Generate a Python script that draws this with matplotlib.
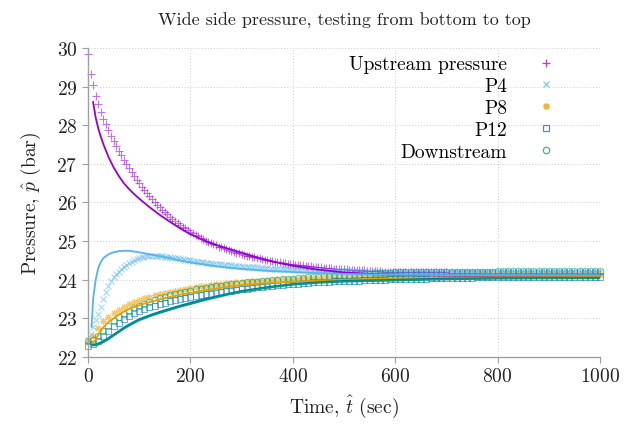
import numpy as np
import matplotlib
matplotlib.use('Agg')
import matplotlib.pyplot as plt
from matplotlib.lines import Line2D

# measured data, sampled every 5 s (upstream, P4) and every 10 s (P8, P12, downstream)
t_fino = np.arange(0, 1001, 5)
t_grueso = np.arange(0, 1001, 10)

upstream = [
    29.85, 29.32, 29.04, 28.77, 28.54, 28.35, 28.17, 28.02, 27.87, 27.73,
    27.60, 27.47, 27.34, 27.22, 27.11, 26.99, 26.89, 26.78, 26.68, 26.59,
    26.50, 26.41, 26.32, 26.24, 26.16, 26.09, 26.01, 25.94, 25.88, 25.81,
    25.75, 25.69, 25.63, 25.57, 25.52, 25.47, 25.42, 25.37, 25.33, 25.28,
    25.24, 25.20, 25.16, 25.12, 25.08, 25.05, 25.01, 24.98, 24.95, 24.92,
    24.89, 24.86, 24.84, 24.81, 24.79, 24.76, 24.74, 24.72, 24.70, 24.68,
    24.66, 24.64, 24.62, 24.61, 24.59, 24.58, 24.56, 24.55, 24.53, 24.52,
    24.51, 24.49, 24.48, 24.47, 24.46, 24.45, 24.44, 24.43, 24.42, 24.41,
    24.40, 24.39, 24.38, 24.38, 24.37, 24.36, 24.35, 24.35, 24.34, 24.33,
    24.33, 24.32, 24.31, 24.31, 24.30, 24.30, 24.29, 24.29, 24.28, 24.28,
    24.27, 24.27, 24.26, 24.26, 24.25, 24.25, 24.25, 24.24, 24.24, 24.23,
    24.23, 24.23, 24.22, 24.22, 24.22, 24.21, 24.21, 24.21, 24.21, 24.20,
    24.20,
    24.20, 24.20, 24.20, 24.20, 24.19, 24.19, 24.19, 24.19, 24.19, 24.19,
    24.19, 24.19, 24.19, 24.19, 24.19, 24.19, 24.19, 24.19, 24.19, 24.19,
    24.18, 24.18, 24.18, 24.18, 24.18, 24.18, 24.18, 24.18, 24.18, 24.18,
    24.18, 24.18, 24.18, 24.18, 24.18, 24.18, 24.18, 24.18, 24.18, 24.18,
    24.18, 24.18, 24.18, 24.18, 24.18, 24.18, 24.18, 24.18, 24.18, 24.18,
    24.17, 24.17, 24.17, 24.17, 24.17, 24.17, 24.17, 24.17, 24.17, 24.17,
    24.17, 24.17, 24.17, 24.17, 24.17, 24.17, 24.17, 24.17, 24.17, 24.17,
    24.17, 24.17, 24.17, 24.17, 24.17, 24.17, 24.17, 24.17, 24.17, 24.17,
]

p4 = [
    22.45, 22.60, 22.77, 22.95, 23.12, 23.30, 23.50, 23.68, 23.84, 23.97,
    24.06, 24.14, 24.21, 24.27, 24.33, 24.38, 24.43, 24.47, 24.51, 24.54,
    24.57, 24.59, 24.60, 24.61, 24.62, 24.62, 24.62, 24.62, 24.61, 24.61,
    24.60, 24.59, 24.58, 24.57, 24.56, 24.55, 24.54, 24.53, 24.52, 24.51,
    24.50, 24.49, 24.48, 24.47, 24.46, 24.45, 24.44, 24.44, 24.43, 24.42,
    24.41, 24.40, 24.40, 24.39, 24.38, 24.38, 24.37, 24.36, 24.36, 24.35,
    24.35, 24.34, 24.34, 24.33, 24.33, 24.32, 24.32, 24.31, 24.31, 24.30,
    24.30,
    24.29, 24.29, 24.29, 24.28, 24.28, 24.28, 24.27, 24.27, 24.27, 24.26,
    24.26, 24.26, 24.25, 24.25, 24.25, 24.25, 24.24, 24.24, 24.24, 24.24,
    24.23, 24.23, 24.23, 24.23, 24.23, 24.22, 24.22, 24.22, 24.22, 24.22,
    24.22, 24.22, 24.22, 24.22, 24.22, 24.21, 24.21, 24.21, 24.21, 24.21,
    24.21, 24.21, 24.21, 24.21, 24.21, 24.21, 24.21, 24.21, 24.21, 24.21,
    24.21, 24.21, 24.21, 24.21, 24.21, 24.21, 24.21, 24.21, 24.21, 24.21,
    24.21, 24.21, 24.21, 24.21, 24.21, 24.21, 24.21, 24.21, 24.21, 24.21,
    24.20, 24.20, 24.20, 24.20, 24.20, 24.20, 24.20, 24.20, 24.20, 24.20,
    24.20, 24.20, 24.20, 24.20, 24.20, 24.20, 24.20, 24.20, 24.20, 24.20,
    24.20, 24.20, 24.20, 24.20, 24.20, 24.20, 24.20, 24.20, 24.20, 24.20,
    24.20, 24.20, 24.20, 24.20, 24.20, 24.20, 24.20, 24.20, 24.20, 24.20,
    24.20, 24.20, 24.20, 24.20, 24.20, 24.20, 24.20, 24.20, 24.20, 24.20,
    24.20, 24.20, 24.20, 24.20, 24.20, 24.20, 24.20, 24.20, 24.20, 24.20,
]

p8 = [
    22.38, 22.55, 22.76, 22.92, 23.04, 23.14, 23.22, 23.30, 23.36, 23.42,
    23.47, 23.52, 23.56, 23.60, 23.63, 23.66, 23.69, 23.72, 23.74, 23.77,
    23.79, 23.81, 23.83, 23.85, 23.86, 23.88, 23.89, 23.91, 23.92, 23.93,
    23.94, 23.95, 23.96, 23.97, 23.98, 23.99, 24.00, 24.01, 24.01, 24.02,
    24.03, 24.03, 24.04, 24.04, 24.05, 24.05, 24.06, 24.06, 24.07, 24.07,
    24.07,
    24.08, 24.08, 24.08, 24.08, 24.08, 24.09, 24.09, 24.09, 24.09, 24.09,
    24.09, 24.09, 24.09, 24.10, 24.10, 24.10, 24.10, 24.10, 24.10, 24.10,
    24.10, 24.10, 24.10, 24.10, 24.10, 24.11, 24.11, 24.11, 24.11, 24.11,
    24.11, 24.11, 24.11, 24.11, 24.11, 24.11, 24.11, 24.11, 24.11, 24.11,
    24.11, 24.11, 24.11, 24.11, 24.11, 24.11, 24.11, 24.11, 24.11, 24.11,
]

p12 = [
    22.29, 22.33, 22.41, 22.54, 22.67, 22.79, 22.89, 22.98, 23.06, 23.13,
    23.19, 23.24, 23.29, 23.33, 23.37, 23.41, 23.44, 23.47, 23.50, 23.52,
    23.55, 23.57, 23.60, 23.62, 23.64, 23.66, 23.68, 23.70, 23.72, 23.74,
    23.76, 23.77, 23.79, 23.80, 23.82, 23.83, 23.85, 23.86, 23.87, 23.88,
    23.89, 23.90, 23.91, 23.92, 23.93, 23.94, 23.94, 23.95, 23.96, 23.96,
    23.97, 23.97, 23.98, 23.98, 23.99, 23.99, 24.00, 24.00, 24.00, 24.01,
    24.01, 24.02, 24.02, 24.02, 24.03, 24.03, 24.03, 24.04, 24.04, 24.04,
    24.05,
    24.05, 24.05, 24.05, 24.05, 24.05, 24.06, 24.06, 24.06, 24.06, 24.06,
    24.06, 24.06, 24.06, 24.06, 24.06, 24.07, 24.07, 24.07, 24.07, 24.07,
    24.07, 24.07, 24.07, 24.07, 24.07, 24.07, 24.07, 24.07, 24.07, 24.07,
]

downstream = [
    22.42, 22.45, 22.55, 22.68, 22.81, 22.93, 23.03, 23.11, 23.19, 23.26,
    23.32, 23.38, 23.43, 23.48, 23.52, 23.56, 23.60, 23.63, 23.66, 23.69,
    23.72, 23.75, 23.77, 23.79, 23.81, 23.83, 23.85, 23.87, 23.88, 23.90,
    23.91, 23.93, 23.94, 23.95, 23.97, 23.98, 23.99, 24.00, 24.01, 24.02,
    24.03, 24.04, 24.05, 24.06, 24.07, 24.08, 24.09, 24.10, 24.11, 24.12,
    24.12, 24.13, 24.14, 24.15, 24.15, 24.16, 24.17, 24.17, 24.18, 24.18,
    24.19, 24.19, 24.19, 24.20, 24.20, 24.20, 24.20, 24.21, 24.21, 24.21,
    24.21,
    24.21, 24.21, 24.21, 24.21, 24.21, 24.21, 24.21, 24.21, 24.21, 24.22,
    24.22, 24.22, 24.22, 24.22, 24.22, 24.22, 24.22, 24.22, 24.22, 24.22,
    24.22, 24.22, 24.22, 24.22, 24.22, 24.22, 24.22, 24.22, 24.22, 24.22,
]

# model curves
t_mod_up = [10, 15, 20, 25, 30, 40, 50, 60, 70, 80, 90, 100, 120, 140, 160,
            180, 200, 225, 250, 275, 300, 325, 350, 375, 400, 450, 500, 550,
            600, 700, 800, 900, 1000]
mod_up = [28.60, 28.20, 27.92, 27.70, 27.51, 27.18, 26.91, 26.69, 26.50,
          26.35, 26.22, 26.10, 25.88, 25.68, 25.50, 25.33, 25.18, 25.03,
          24.90, 24.80, 24.70, 24.60, 24.51, 24.43, 24.36, 24.26, 24.19,
          24.15, 24.13, 24.11, 24.10, 24.10, 24.10]

t_mod_p4 = [7, 10, 15, 20, 25, 30, 40, 50, 60, 70, 80, 90, 100, 120, 140,
            160, 180, 200, 225, 250, 275, 300, 350, 400, 450, 500, 600, 700,
            800, 1000]
mod_p4 = [22.78, 23.50, 24.00, 24.30, 24.46, 24.56, 24.66, 24.71, 24.74,
          24.75, 24.75, 24.73, 24.71, 24.66, 24.61, 24.56, 24.50, 24.45,
          24.40, 24.35, 24.31, 24.28, 24.23, 24.20, 24.17, 24.15, 24.13,
          24.12, 24.12, 24.12]

t_mod = [8, 15, 20, 30, 40, 50, 60, 70, 80, 90, 100, 120, 140, 160, 180,
         200, 225, 250, 275, 300, 350, 400, 450, 500, 600, 700, 800, 1000]
mod_p8 = [22.33, 22.45, 22.57, 22.77, 22.90, 23.00, 23.09, 23.17, 23.24,
          23.29, 23.34, 23.42, 23.49, 23.55, 23.61, 23.66, 23.72, 23.77,
          23.82, 23.86, 23.91, 23.95, 23.98, 24.00, 24.03, 24.05, 24.06, 24.07]
mod_p12 = [22.31, 22.32, 22.35, 22.41, 22.49, 22.58, 22.67, 22.76, 22.84,
           22.91, 22.98, 23.08, 23.17, 23.25, 23.33, 23.40, 23.49, 23.57,
           23.64, 23.71, 23.81, 23.89, 23.94, 23.97, 24.00, 24.03, 24.04, 24.05]
mod_down = [22.30, 22.30, 22.32, 22.38, 22.46, 22.55, 22.64, 22.73, 22.81,
            22.88, 22.95, 23.05, 23.14, 23.22, 23.30, 23.37, 23.46, 23.54,
            23.62, 23.69, 23.79, 23.87, 23.92, 23.95, 23.98, 24.01, 24.03, 24.04]

morado = '#9400d3'
celeste = '#56b4e9'
naranja = '#e69f00'
azul = '#0072b2'
verde = '#009e73'
gris = '#a0a0a0'

plt.rcParams['font.family'] = 'serif'
plt.rcParams['font.serif'] = ['cmr10']
plt.rcParams['mathtext.fontset'] = 'cm'
plt.rcParams['axes.formatter.use_mathtext'] = True

fig, ax = plt.subplots(figsize=(6.34, 4.31), dpi=100)
fig.subplots_adjust(left=0.1388, right=0.9464, top=0.8863, bottom=0.1694)

# data points: (x, y, label, marker, size, colour, filled)
series = [
    (t_fino, upstream, 'Upstream pressure', '+', 5.5, morado, True),
    (t_fino, p4, 'P4', 'x', 4.5, celeste, True),
    (t_grueso, p8, 'P8', (8, 2, 0), 5, naranja, True),
    (t_grueso, p12, 'P12', 's', 4.2, azul, False),
    (t_grueso, downstream, 'Downstream', 'o', 4.6, verde, False),
]

handles = []
for x, y, nombre, marca, tam, col, lleno in series:
    ax.plot(x, y, linestyle='none', marker=marca, ms=tam, mew=0.8,
            mfc=col if lleno else 'none', mec=col, color=col, alpha=0.55,
            clip_on=False, zorder=2)
    handles.append(Line2D([], [], linestyle='none', marker=marca, ms=tam,
                          mew=0.9, mfc=col if lleno else 'none', mec=col,
                          color=col, alpha=0.75, label=nombre))

# model lines
ax.plot(t_mod_up, mod_up, '-', color=morado, lw=1.3, zorder=3)
ax.plot(t_mod_p4, mod_p4, '-', color=celeste, lw=1.3, zorder=3)
ax.plot(t_mod, mod_p8, '-', color=naranja, lw=1.3, zorder=3)
ax.plot(t_mod, mod_p12, '-', color=azul, lw=1.3, zorder=3)
ax.plot(t_mod, mod_down, '-', color=verde, lw=1.3, zorder=3)

ax.set_xlim(0, 1000)
ax.set_ylim(22, 30)
ax.set_xticks([0, 200, 400, 600, 800, 1000])
ax.set_yticks([22, 23, 24, 25, 26, 27, 28, 29, 30])
ax.grid(True, linestyle=(0, (1, 2)), color='#cccccc', linewidth=0.7)
ax.set_axisbelow(True)
for lado in ['top', 'right']:
    ax.spines[lado].set_visible(False)
for lado in ['left', 'bottom']:
    ax.spines[lado].set_color(gris)
    ax.spines[lado].set_linewidth(1.0)
ax.tick_params(colors=gris, labelcolor='#222222', labelsize=14, length=4,
               direction='out')

ax.set_title('Wide side pressure, testing from bottom to top', fontsize=13,
             color='#222222', pad=17)
ax.set_xlabel(r'Time, $\hat{t}$ (sec)', fontsize=14, color='#222222',
              labelpad=5)
ax.set_ylabel(r'Pressure, $\hat{p}$ (bar)', fontsize=14, color='#222222',
              labelpad=10)

ax.legend(handles=handles, loc='upper right', bbox_to_anchor=(0.94, 1.02),
          frameon=False, markerfirst=False, fontsize=14, handlelength=1.0,
          handletextpad=1.5, labelspacing=0.2, borderpad=0.2)

plt.savefig('out.png', dpi=100)
